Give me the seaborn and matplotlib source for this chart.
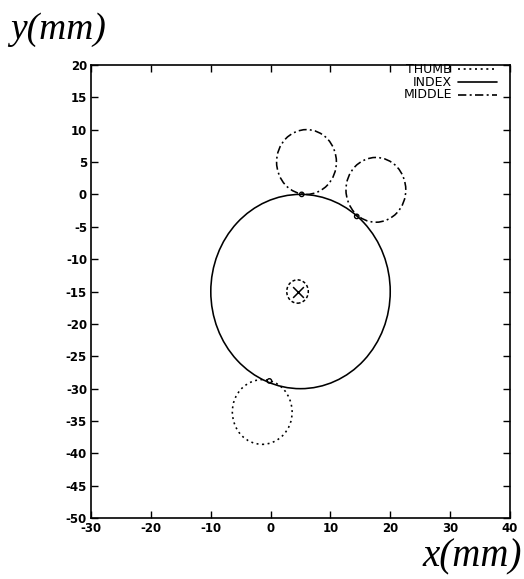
import matplotlib
matplotlib.use("Agg")
import matplotlib.pyplot as plt
from matplotlib.patches import Circle
import seaborn as sns
import pandas as pd

# circle centres / radii (mm)
finger_names = ["THUMB", "INDEX", "MIDDLE", "MIDDLE"]
center_x = [-1.4, 5.0, 6.0, 17.6]
center_y = [-33.6, -15.0, 5.0, 0.7]
radius = [5.0, 15.0, 5.0, 5.0]

# object centre marker and contact points
obj_x, obj_y, obj_r = 4.5, -15.0, 1.8
contact_x = [5.2, 14.4, -0.2]
contact_y = [0.0, -3.4, -28.8]

x_ticks = [-30, -20, -10, 0, 10, 20, 30, 40]
y_ticks = [20, 15, 10, 5, 0, -5, -10, -15, -20, -25, -30, -35, -40, -45, -50]
legend_names = ["THUMB", "INDEX", "MIDDLE"]

styles = {
    "THUMB": (0, (1.2, 2.2)),
    "INDEX": "-",
    "MIDDLE": (0, (5, 2, 1.2, 2)),
}

sns.set_style("ticks")
plt.rcParams["font.family"] = ["DejaVu Sans"]
plt.rcParams["axes.unicode_minus"] = False
plt.rcParams["xtick.direction"] = "in"
plt.rcParams["ytick.direction"] = "in"
plt.rcParams["text.color"] = "black"
plt.rcParams["xtick.color"] = "black"
plt.rcParams["ytick.color"] = "black"
plt.rcParams["axes.edgecolor"] = "black"

fig = plt.figure(figsize=(5.24, 5.79), dpi=100)
ax = fig.add_axes([0.174, 0.105, 0.799, 0.783])

for name, cx, cy, r in zip(finger_names, center_x, center_y, radius):
    ax.add_patch(Circle((cx, cy), r, fill=False, color="black", lw=1.15,
                        linestyle=styles[name]))

ax.add_patch(Circle((obj_x, obj_y), obj_r, fill=False, color="black", lw=1.1,
                    linestyle=(0, (2, 1.5))))
sns.scatterplot(x=[obj_x], y=[obj_y], marker="x", s=60, color="black",
                linewidth=1.1, ax=ax, legend=False)
pts = pd.DataFrame({"x": contact_x, "y": contact_y})
sns.scatterplot(data=pts, x="x", y="y", marker="o", s=10, facecolor="none",
                edgecolor="black", linewidth=1.0, ax=ax, legend=False)

ax.set_xlim(-30, 40)
ax.set_ylim(-50, 20)
ax.set_xticks(x_ticks)
ax.set_yticks(y_ticks)
ax.tick_params(top=True, right=True, length=5, width=1, labelsize=8.5, pad=3)
for lab in ax.get_xticklabels() + ax.get_yticklabels():
    lab.set_fontweight("bold")
for s in ax.spines.values():
    s.set_linewidth(1.2)
ax.set_xlabel("")
ax.set_ylabel("")

# gnuplot-style key: right-aligned labels followed by line samples
row_y = [0.990, 0.962, 0.934]
for name, yy in zip(legend_names, row_y):
    ax.text(0.862, yy, name, transform=ax.transAxes, ha="right", va="center",
            fontsize=9, color="black")
    ax.plot([0.876, 0.969], [yy, yy], transform=ax.transAxes, color="black",
            lw=1.2, linestyle=styles[name])

fig.text(0.02, 0.978, "y(mm)", fontsize=27, style="italic", color="black",
         family=["Liberation Serif", "DejaVu Serif"], ha="left", va="top")
fig.text(0.997, 0.006, "x(mm)", fontsize=28, style="italic", color="black",
         family=["Liberation Serif", "DejaVu Serif"], ha="right", va="bottom")

fig.savefig("out.png", dpi=100)
